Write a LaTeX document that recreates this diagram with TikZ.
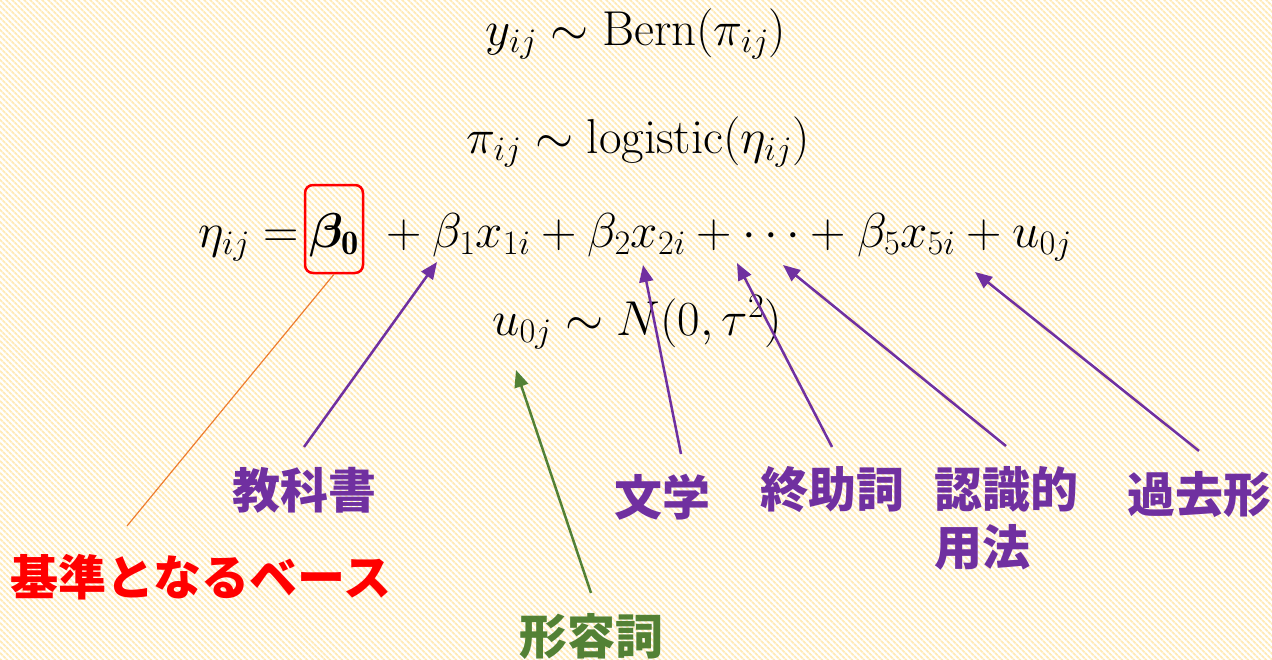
\RequirePackage{fix-cm}
\documentclass[tikz,border=0pt]{standalone}
\usepackage{amsmath,bm}
\usepackage{fontspec}
\newfontfamily\jpfont{Noto Sans CJK JP}
\usepackage{tikz}
\usetikzlibrary{arrows.meta,positioning,calc,patterns.meta}
\definecolor{labelpurple}{HTML}{7030A0}
\definecolor{labelgreen}{HTML}{538135}
\definecolor{baseorange}{HTML}{ED7D31}
\definecolor{stripeyellow}{HTML}{FFEAB8}
\tikzset{
  formula/.style={anchor=base,inner sep=0pt,font=\fontsize{49}{58}\selectfont},
  basebox/.style={draw=red,line width=2.5pt,rounded corners=8pt,minimum width=58pt,
    text height=62pt,text depth=26pt},
  termlabel/.style={font=\fontsize{48}{58}\selectfont\jpfont\bfseries,text=labelpurple,
    inner sep=0pt,outer sep=20pt,align=left},
  termarrow/.style={-{Triangle[length=17pt,width=14pt]},line width=2.5pt,draw=labelpurple},
  adjarrow/.style={termarrow,draw=labelgreen},
  baseleader/.style={draw=baseorange,line width=1.2pt}
}
\begin{document}
\begin{tikzpicture}[x=1pt,y=-1pt]
  \useasboundingbox (0,0) rectangle (1272,659);
  \fill[white] (0,0) rectangle (1272,659);
  \fill[pattern={Lines[angle=-45,distance=4pt,line width=2pt]},pattern color=stripeyellow]
    (0,0) rectangle (1272,659);

  % model
  \node[formula] (bern) at (636,45) {$y_{ij} \sim \mathrm{Bern}(\pi_{ij})$};
  \node[formula] (logit) at (638,153) {$\pi_{ij} \sim \mathrm{logistic}(\eta_{ij})$};
  \node[formula,basebox] (b0) at (334,247) {$\bm{\beta}_{\mathbf{0}}$};
  \node[formula,anchor=base east] (etalhs) at (299,247) {$\eta_{ij} =$};
  \node[formula,anchor=base west] (etarhs) at (375,247)
    {${}+ \beta_1 x_{1i} + \beta_2 x_{2i} + \cdots + \beta_5 x_{5i} + u_{0j}$};
  \node[formula] (ranef) at (637,335) {$u_{0j} \sim N(0,\tau^2)$};

  % where the arrows point
  \coordinate (tipB1) at (437,262);
  \coordinate (tipX2) at (643,265);
  \coordinate (tipDots) at (737,263);
  \coordinate (tipPlus) at (783,265);
  \coordinate (tipX5) at (975,272);
  \coordinate (tipU) at (516,370);
  \coordinate (baseEnd) at (127,526);

  % labels
  \node[termlabel] (textbook) at (304,490) {教科書};
  \node[termlabel] (literature) at (662,497) {文学};
  \node[termlabel] (sfp) at (832,490) {終助詞};
  \node[termlabel] (epistemic) at (1006,518) {認識的\\用法};
  \node[termlabel] (past) at (1199,494) {過去形};
  \node[termlabel,text=labelgreen] (adjective) at (591,636) {形容詞};
  \node[termlabel,text=red] (base) at (201,577) {基準となるベース};

  \draw[baseleader] (b0.south) -- (baseEnd);
  \draw[termarrow] (textbook.north) -- (tipB1);
  \draw[termarrow] ([xshift=19pt]literature.north) -- (tipX2);
  \draw[termarrow] (sfp.north) -- (tipDots);
  \draw[termarrow] (epistemic.north) -- (tipPlus);
  \draw[termarrow] (past.north) -- (tipX5);
  \draw[adjarrow] (adjective.north) -- (tipU);
\end{tikzpicture}
\end{document}
